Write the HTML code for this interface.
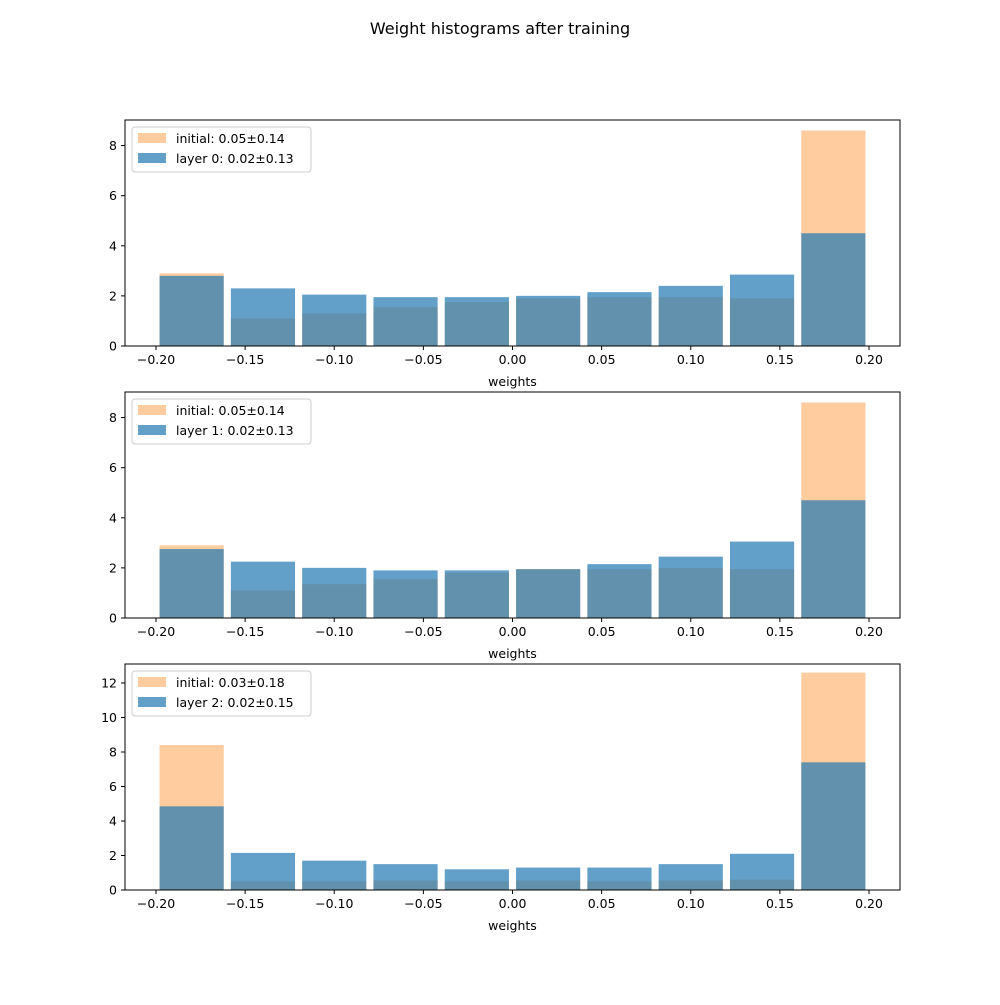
<!DOCTYPE html>
<html><head><meta charset="utf-8"><style>
body{margin:0;background:#fff}
text{font-family:"DejaVu Sans","Liberation Sans",sans-serif;fill:#000}
</style></head><body>
<svg id="chart" width="1000" height="1000" xmlns="http://www.w3.org/2000/svg">
<rect width="1000" height="1000" fill="#fff"/>
<text x="500" y="34" font-size="16" text-anchor="middle">Weight histograms after training</text>
</svg>
<script>
const binEdges = [-0.2,-0.16,-0.12,-0.08,-0.04,0,0.04,0.08,0.12,0.16,0.2];
const xTicks = [-0.20,-0.15,-0.10,-0.05,0.00,0.05,0.10,0.15,0.20];
const xTickLabels = ["\u22120.20","\u22120.15","\u22120.10","\u22120.05","0.00","0.05","0.10","0.15","0.20"];
const initial0 = [2.9,1.1,1.3,1.55,1.75,1.9,1.95,1.95,1.9,8.6];
const layer0 = [2.8,2.3,2.05,1.95,1.95,2.0,2.15,2.4,2.85,4.5];
const initial1 = [2.9,1.1,1.35,1.55,1.8,1.95,1.95,2.0,1.95,8.6];
const layer1 = [2.75,2.25,2.0,1.9,1.9,1.95,2.15,2.45,3.05,4.7];
const initial2 = [8.4,0.5,0.5,0.55,0.5,0.55,0.5,0.55,0.6,12.6];
const layer2 = [4.85,2.15,1.7,1.5,1.2,1.3,1.3,1.5,2.1,7.4];
const legendInit = ["initial: 0.05\u00b10.14","initial: 0.05\u00b10.14","initial: 0.03\u00b10.18"];
const legendLayer = ["layer 0: 0.02\u00b10.13","layer 1: 0.02\u00b10.13","layer 2: 0.02\u00b10.15"];
const yTicks0 = [0,2,4,6,8];
const yTicks2 = [0,2,4,6,8,10,12];

const NS="http://www.w3.org/2000/svg";
const svg=document.getElementById('chart');
function mk(tag,attrs,parent){const e=document.createElementNS(NS,tag);for(const k in attrs)e.setAttribute(k,attrs[k]);(parent||svg).appendChild(e);return e;}
const L=125,R=900;
function xs(v){return 512.5+v*1782.5;}
const panels=[
 {top:120,bot:346,ymax:9.02,init:initial0,lay:layer0,ticks:yTicks0},
 {top:392,bot:618,ymax:9.02,init:initial1,lay:layer1,ticks:yTicks0},
 {top:664,bot:890,ymax:13.1,init:initial2,lay:layer2,ticks:yTicks2}];
panels.forEach((p,pi)=>{
 const g=mk('g',{});
 
 
 const ys=v=>p.bot-v/p.ymax*(p.bot-p.top);
 const draw=(arr,color,op,nm)=>{arr.forEach((v,i)=>{
  const w=binEdges[i+1]-binEdges[i];
  const x0=xs(binEdges[i]+w*0.05),x1=xs(binEdges[i+1]-w*0.05);
  const r=mk('rect',{x:x0,y:ys(v),width:x1-x0,height:ys(0)-ys(v),fill:color,'fill-opacity':op},g);
  
  
 });};
 draw(p.init,'#ff7f0e',0.4,'initial');
 draw(p.lay,'#1f77b4',0.7,'layer');
 mk('rect',{x:L,y:p.top,width:R-L,height:p.bot-p.top,fill:'none',stroke:'#000','stroke-width':1},g);
 xTicks.forEach((t,i)=>{
  mk('line',{x1:xs(t),x2:xs(t),y1:p.bot,y2:p.bot+4,stroke:'#000'},g);
  const tx=mk('text',{x:xs(t),y:p.bot+18,'font-size':12.5,'text-anchor':'middle'},g);
  tx.textContent=xTickLabels[i];
  
  
 });
 p.ticks.forEach(t=>{
  mk('line',{x1:L-4,x2:L,y1:ys(t),y2:ys(t),stroke:'#000'},g);
  const tx=mk('text',{x:L-8,y:ys(t)+4.5,'font-size':12.5,'text-anchor':'end'},g);
  tx.textContent=String(t);
  
  
 });
 const xl=mk('text',{x:512.5,y:p.bot+40,'font-size':12.5,'text-anchor':'middle'},g);
 xl.textContent='weights';
 
 
 const lg=mk('g',{},g);
 
 
 const ly=p.top+7;
 mk('rect',{x:132,y:ly,width:179,height:45,rx:3,fill:'#fff','fill-opacity':0.8,stroke:'#ccc'},lg);
 mk('rect',{x:138,y:ly+6,width:28,height:10,fill:'#ff7f0e','fill-opacity':0.4},lg);
 mk('rect',{x:138,y:ly+26,width:28,height:10,fill:'#1f77b4','fill-opacity':0.7},lg);
 const t1=mk('text',{x:176,y:ly+16,'font-size':12.5},lg);t1.textContent=legendInit[pi];
 
 
 const t2=mk('text',{x:176,y:ly+36,'font-size':12.5},lg);t2.textContent=legendLayer[pi];
 
 
});
</script>
</body></html>
